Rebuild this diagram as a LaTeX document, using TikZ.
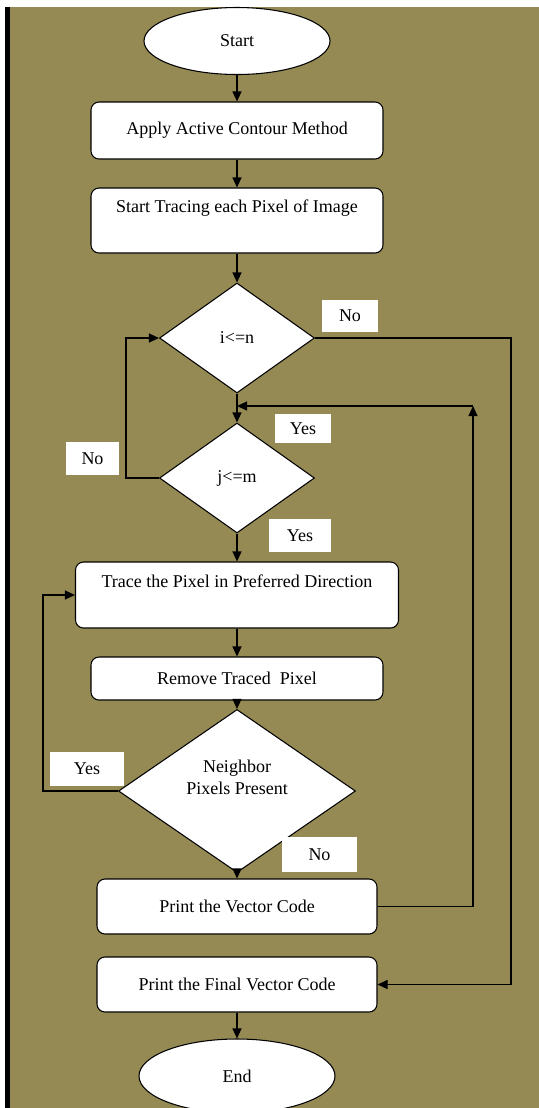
\documentclass[tikz,border=0pt]{standalone}
\usepackage{fontspec}
\setmainfont{Liberation Serif}
\usepackage{xcolor}
\usepackage{tikz}
\usetikzlibrary{shapes.geometric, arrows.meta, positioning, calc}

\definecolor{olivebg}{RGB}{150,138,84}

\begin{document}
\begin{tikzpicture}[
    x=0.75pt, y=-0.75pt,
    line width=0.8pt,
    >={Triangle[length=7.5pt,width=6.75pt]},
    every node/.style={font=\fontsize{13.5}{16}\selectfont},
    terminal/.style={ellipse, draw, fill=white, inner sep=0pt},
    procbox/.style={rectangle, draw, fill=white, rounded corners=6pt, align=center, inner sep=2pt},
    decision/.style={diamond, draw, fill=white, align=center, inner sep=0pt},
    answer/.style={rectangle, fill=white, inner sep=0pt}
]

% Page frame and background
\clip (0,0) rectangle (539,1108);
\fill[olivebg] (10,7) rectangle (539,1108);
\fill[black] (5,7) rectangle (10,1108);

% Main column of the flowchart
\node[terminal, minimum width=139.5pt, minimum height=50.25pt] (start) at (237,41) {Start};
\node[procbox, minimum width=219pt, minimum height=42.75pt] (apply) at (237,130.5) {Apply Active Contour Method};
\node[procbox, minimum width=219pt, minimum height=48.75pt] (trace) at (237,220.5) {Start Tracing each Pixel of Image\\ \strut};
\node[decision, minimum width=116.25pt, minimum height=82.5pt] (dfi) at (237,338) {i<=n};
\node[decision, minimum width=116.25pt, minimum height=82.5pt] (dfj) at (237,478) {j<=m};
\node[procbox, minimum width=242.25pt, minimum height=49.5pt] (pixel) at (237,595) {Trace the Pixel in Preferred Direction\\ \strut};
\node[procbox, minimum width=219pt, minimum height=32.25pt] (remove) at (237,678.5) {Remove Traced\ \ Pixel};
\node[decision, minimum width=177.75pt, minimum height=97.5pt] (nbr) at (237,791) {Neighbor\\Pixels Present\\ \strut};
\node[procbox, minimum width=210pt, minimum height=41.25pt] (vec) at (237,906.5) {Print the Vector Code};
\node[procbox, minimum width=210pt, minimum height=41.25pt] (final) at (237,984.5) {Print the Final Vector Code};
\node[terminal, minimum width=147pt, minimum height=55.5pt] (end) at (237,1076) {End};

% Yes / No tags
\node[answer, minimum width=42pt, minimum height=24pt] (noi) at (350,316) {No};
\node[answer, minimum width=42pt, minimum height=21.75pt] (yesi) at (303,428.5) {Yes};
\node[answer, minimum width=39.75pt, minimum height=24.75pt] (noj) at (92.5,458.5) {No};
\node[answer, minimum width=46.5pt, minimum height=24.75pt] (yesj) at (300,535.5) {Yes};
\node[answer, minimum width=55.5pt, minimum height=25.5pt] (yesn) at (87,769) {Yes};
\node[answer, minimum width=56.25pt, minimum height=26.25pt] (non) at (319.5,854.5) {No};

% Corner points of the loops
\coordinate (merge) at (237,406);
\coordinate (backup) at (473,406);
\coordinate (exitr) at (511,338);
\coordinate (loopj) at (126,478);
\coordinate (loopn) at (43,791);

% Straight arrows down the column
\draw[->] (start) -- (apply);
\draw[->] (apply) -- (trace);
\draw[->] (trace) -- (dfi);
\draw[->] (dfi) -- (dfj);
\draw[->] (dfj) -- (pixel);
\draw[->] (pixel) -- (remove);
\draw[->] (remove) -- (nbr);
\draw[->] (nbr) -- (vec);
\draw[->] (final) -- (end);

% Loops
\draw[->] (dfi.east) -- (exitr) |- (final.east);
\draw[->] (dfj.west) -- (loopj) |- (dfi.west);
\draw[->] (vec.east) -| (backup);
\draw[->] (backup) -- (merge);
\draw[->] (nbr.west) -- (loopn) |- (pixel.west);

\end{tikzpicture}
\end{document}
